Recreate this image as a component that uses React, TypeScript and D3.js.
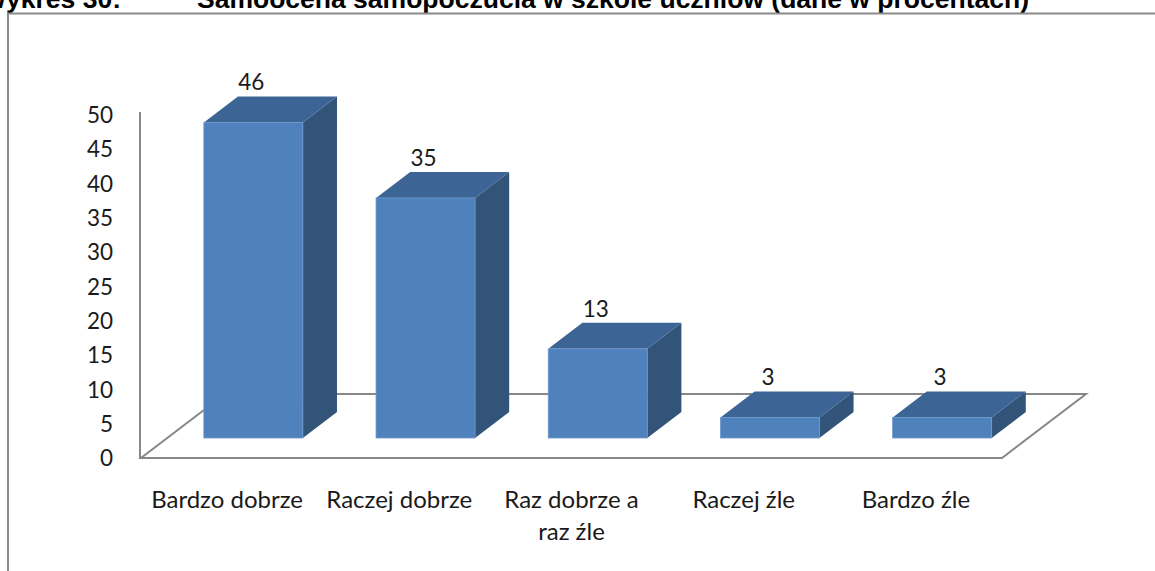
import React from "react";
import * as d3 from "d3";

const categories: string[][] = [
  ["Bardzo dobrze"],
  ["Raczej dobrze"],
  ["Raz dobrze a", "raz źle"],
  ["Raczej źle"],
  ["Bardzo źle"],
];
const values: number[] = [46, 35, 13, 3, 3];
const yTicks: number[] = [0, 5, 10, 15, 20, 25, 30, 35, 40, 45, 50];
const titleNumber = "Wykres 30:";
const titleText = "Samoocena samopoczucia w szkole uczniów (dane w procentach)";

const W = 1155;
const H = 571;

// plot geometry (front plane of the floor)
const floorLeft = 141;
const floorRight = 1002;
const floorFront = 458;
const depthDx = 84;
const depthDy = -64;
const barFrontFrac = 20 / 64;
const barDepthFrac = 26 / 64;

export default function App() {
  const keys = categories.map((c) => c.join(" "));
  const x = d3
    .scaleBand<string>()
    .domain(keys)
    .range([floorLeft, floorRight])
    .paddingInner(0.425)
    .paddingOuter(0.2125);
  const y = d3.scaleLinear().domain([0, 50]).range([floorFront, 115]);

  const fdx = depthDx * barFrontFrac;
  const fdy = depthDy * barFrontFrac;
  const bdx = depthDx * barDepthFrac;
  const bdy = depthDy * barDepthFrac;
  const bw = x.bandwidth();

  const gridColor = "#878787";
  const font = "Lato, 'Open Sans', sans-serif";

  return (
    <svg
      width={W}
      height={H}
      style={{ position: "absolute", left: 0, top: 0, background: "#fff" }}
    >
      {/* title (cut off at top) */}
      <text
        x={121}
        y={8}
        textAnchor="end"
        fontFamily="'Liberation Sans', Arial, sans-serif"
        fontWeight="bold"
        fontSize={26.5}
        fill="#000"
      >
        {titleNumber}
      </text>
      <text
        x={197}
        y={8}
        fontFamily="'Liberation Sans', Arial, sans-serif"
        fontWeight="bold"
        fontSize={26.5}
        fill="#000"
      >
        {titleText}
      </text>

      {/* outer frame */}
      <path d={`M8,${H + 5} L8,13.5 L${W + 5},13.5`} fill="none" stroke="#8a8a8a" strokeWidth={2} />

      {/* floor */}
      <path
        d={`M${floorLeft},${floorFront} L${floorRight},${floorFront} L${floorRight + depthDx},${floorFront + depthDy} L${floorLeft + depthDx},${floorFront + depthDy} Z`}
        fill="none"
        stroke={gridColor}
        strokeWidth={2}
      />
      {/* value axis */}
      <line
        x1={floorLeft - 1}
        x2={floorLeft - 1}
        y1={y(50) - 3}
        y2={floorFront}
        stroke={gridColor}
        strokeWidth={2}
      />

      {/* y tick labels */}
      {yTicks.map((t) => (
        <text
          key={t}
          x={113}
          y={y(t)}
          dy="0.36em"
          textAnchor="end"
          fontFamily={font}
          fontSize={22.5}
          fill="#1a1a1a"
        >
          {t}
        </text>
      ))}

      {/* bars */}
      {values.map((v, i) => {
        const x0 = (x(keys[i]) as number) + fdx;
        const x1 = x0 + bw;
        const yTop = y(v) + fdy;
        const yBot = y(0) + fdy;
        return (
          <g key={i}>
            <polygon
              points={`${x1},${yTop} ${x1 + bdx},${yTop + bdy} ${x1 + bdx},${yBot + bdy} ${x1},${yBot}`}
              fill="#325479"
            />
            <polygon
              points={`${x0},${yTop} ${x0 + bdx},${yTop + bdy} ${x1 + bdx},${yTop + bdy} ${x1},${yTop}`}
              fill="#3c6494"
            />
            <rect
              x={x0}
              y={yTop}
              width={bw}
              height={yBot - yTop}
              fill="#4f81bd"
              stroke="#6f98cc"
              strokeWidth={0.8}
            />
            <text
              x={x0 + bw / 2 - 2}
              y={y(v) + fdy - 32}
              textAnchor="middle"
              fontFamily={font}
              fontSize={22.5}
              fill="#1a1a1a"
            >
              {v}
            </text>
          </g>
        );
      })}

      {/* category labels */}
      {categories.map((lines, i) => (
        <text
          key={i}
          x={(x(keys[i]) as number) + bw / 2}
          y={508}
          textAnchor="middle"
          fontFamily={font}
          fontSize={24}
          fill="#1a1a1a"
        >
          {lines.map((l, j) => (
            <tspan key={j} x={(x(keys[i]) as number) + bw / 2} dy={j === 0 ? 0 : 32}>
              {l}
            </tspan>
          ))}
        </text>
      ))}
    </svg>
  );
}
